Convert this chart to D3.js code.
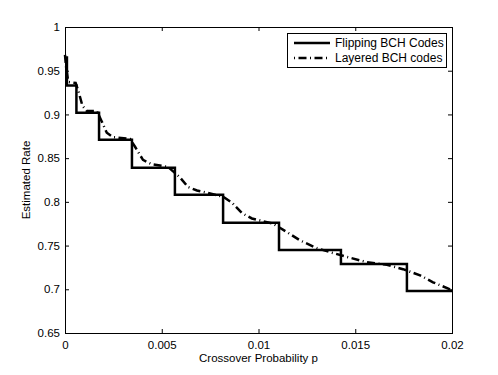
<!DOCTYPE html>
<html>
<head>
<meta charset="utf-8">
<script src="https://cdn.jsdelivr.net/npm/d3@7"></script>
<style>
  body { margin: 0; background: #fff; }
  svg { display: block; font-family: "Liberation Sans", Arial, Helvetica, sans-serif; }
</style>
</head>
<body>
<div id="chart"></div>
<script>
// Données
const xTicks = [0, 0.005, 0.01, 0.015, 0.02];
const yTicks = [0.65, 0.7, 0.75, 0.8, 0.85, 0.9, 0.95, 1];

// Flipping BCH codes : paliers (p de début, taux)
const flipP    = [0, 0.0001, 0.00059, 0.00176, 0.00346, 0.00568, 0.00817, 0.01106, 0.01426, 0.01767, 0.02];
const flipRate = [0.965, 0.933, 0.902, 0.871, 0.839, 0.808, 0.776, 0.745, 0.729, 0.698, 0.698];

// Layered BCH codes
const layP    = [0, 0.00005, 0.00015, 0.0002, 0.00055, 0.0007, 0.0009, 0.00112, 0.00164, 0.0019, 0.00216,
                 0.00248, 0.00336, 0.00362, 0.00403, 0.00448, 0.00532, 0.00594, 0.00636, 0.00682, 0.0076,
                 0.00816, 0.00863, 0.00915, 0.00966, 0.01075, 0.01106, 0.01214, 0.01302, 0.01385, 0.01457,
                 0.0156, 0.01664, 0.01747, 0.01835, 0.01902, 0.02];
const layRate = [0.968, 0.955, 0.940, 0.937, 0.936, 0.926, 0.910, 0.904, 0.904, 0.892, 0.879,
                 0.874, 0.872, 0.863, 0.848, 0.843, 0.840, 0.828, 0.817, 0.813, 0.809,
                 0.806, 0.799, 0.787, 0.781, 0.775, 0.771, 0.756, 0.747, 0.7415, 0.737,
                 0.731, 0.728, 0.723, 0.716, 0.708, 0.699];

const seriesNames = ["Flipping BCH Codes", "Layered BCH codes"];

// Configuration
const width = 498, height = 375;
const margin = { left: 65, right: 46, top: 27, bottom: 42 };

const svg = d3.select("#chart").append("svg")
    .attr("width", width)
    .attr("height", height);

const x = d3.scaleLinear().domain([0, 0.02]).range([margin.left, width - margin.right]);
const y = d3.scaleLinear().domain([0.65, 1]).range([height - margin.bottom, margin.top]);

const flipData = flipP.map((p, i) => ({ p: p, r: flipRate[i] }));
const layData = layP.map((p, i) => ({ p: p, r: layRate[i] }));

// Axes (ticks vers l'intérieur, style MATLAB)
const tickLen = 4;
const axisFont = 11.5;
const legendFont = 12;

function styleAxis(g) {
    g.select(".domain").remove();
    g.selectAll("line").attr("stroke", "#000");
    g.selectAll("text").attr("font-size", axisFont).attr("fill", "#000")
        .attr("font-family", "Liberation Sans, Arial, sans-serif");
}

svg.append("g")
    .attr("transform", `translate(0,${y(0.65)})`)
    .call(d3.axisBottom(x).tickValues(xTicks).tickSize(-tickLen).tickPadding(8).tickFormat(d3.format("")))
    .call(styleAxis);

svg.append("g")
    .attr("transform", `translate(0,${y(1)})`)
    .call(d3.axisTop(x).tickValues(xTicks).tickSize(-tickLen).tickFormat(""))
    .call(styleAxis);

svg.append("g")
    .attr("transform", `translate(${x(0)},0)`)
    .call(d3.axisLeft(y).tickValues(yTicks).tickSize(-tickLen).tickPadding(5).tickFormat(d3.format("")))
    .call(styleAxis);

svg.append("g")
    .attr("transform", `translate(${x(0.02)},0)`)
    .call(d3.axisRight(y).tickValues(yTicks).tickSize(-tickLen).tickFormat(""))
    .call(styleAxis);

// Cadre
svg.append("rect")
    .attr("x", x(0)).attr("y", y(1))
    .attr("width", x(0.02) - x(0)).attr("height", y(0.65) - y(1))
    .attr("fill", "none").attr("stroke", "#000").attr("stroke-width", 1)
    .attr("shape-rendering", "crispEdges");

// Courbes
const stepLine = d3.line().x(d => x(d.p)).y(d => y(d.r)).curve(d3.curveStepAfter);
const line = d3.line().x(d => x(d.p)).y(d => y(d.r));

svg.append("path")
    .datum(layData)
    .attr("d", line)
    .attr("fill", "none")
    .attr("stroke", "#000")
    .attr("stroke-width", 2.5)
    .attr("stroke-dasharray", "8,3.5,1,3.5");

svg.append("path")
    .datum(flipData)
    .attr("d", stepLine)
    .attr("fill", "none")
    .attr("stroke", "#000")
    .attr("stroke-width", 2.5);

// Libellés des axes
svg.append("text")
    .attr("x", (x(0) + x(0.02)) / 2)
    .attr("y", 362)
    .attr("text-anchor", "middle")
    .attr("font-size", axisFont)
    .text("Crossover Probability p");

svg.append("text")
    .attr("transform", `translate(30,${(y(0.65) + y(1)) / 2}) rotate(-90)`)
    .attr("text-anchor", "middle")
    .attr("font-size", axisFont)
    .text("Estimated Rate");

// Légende
const legend = svg.append("g");
legend.append("rect")
    .attr("x", 287).attr("y", 33)
    .attr("width", 159).attr("height", 34)
    .attr("fill", "#fff").attr("stroke", "#000")
    .attr("shape-rendering", "crispEdges");

seriesNames.forEach((name, i) => {
    const ly = 43 + i * 15;
    legend.append("line")
        .attr("x1", 294).attr("x2", 330)
        .attr("y1", ly).attr("y2", ly)
        .attr("stroke", "#000").attr("stroke-width", 2.5)
        .attr("stroke-dasharray", i === 1 ? "1,3.5,8,3.5" : null);
    legend.append("text")
        .attr("x", 335).attr("y", ly)
        .attr("dy", "0.35em")
        .attr("font-size", legendFont)
        .text(name);
});
</script>
</body>
</html>
